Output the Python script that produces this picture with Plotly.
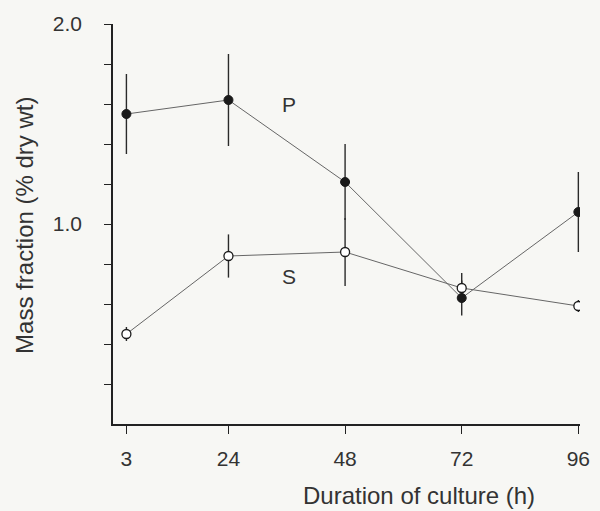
import plotly.graph_objects as go

hours = [3, 24, 48, 72, 96]
p_values = [1.55, 1.62, 1.21, 0.63, 1.06]
p_errors = [0.20, 0.23, 0.19, 0.087, 0.20]
s_values = [0.45, 0.84, 0.86, 0.68, 0.59]
s_errors = [0.035, 0.108, 0.17, 0.075, 0.03]

x_ticks = [3, 24, 48, 72, 96]
y_tick_vals = [0.2, 0.4, 0.6, 0.8, 1.0, 1.2, 1.4, 1.6, 1.8, 2.0]
y_tick_text = ["", "", "", "", "1.0", "", "", "", "", "2.0"]

FONT = "Liberation Sans, Arial, sans-serif"
TXT = "#333333"
BG = "#f7f7f4"

fig = go.Figure()

# error bars underneath
for vals, errs in [(p_values, p_errors), (s_values, s_errors)]:
    fig.add_trace(go.Scatter(
        x=hours, y=vals, mode="markers",
        marker=dict(size=2, color="rgba(0,0,0,0)"),
        error_y=dict(type="data", array=errs, visible=True, width=0,
                     thickness=1.4, color="#2a2a2a"),
        showlegend=False, hoverinfo="skip"))

fig.add_trace(go.Scatter(
    x=hours, y=p_values, mode="lines+markers", name="P",
    line=dict(color="#666666", width=1),
    marker=dict(size=9, color="#1a1a1a", line=dict(color="#1a1a1a", width=1)),
    showlegend=False))

fig.add_trace(go.Scatter(
    x=hours, y=s_values, mode="lines+markers", name="S",
    line=dict(color="#666666", width=1),
    marker=dict(size=9, color="#ffffff", line=dict(color="#1a1a1a", width=1.3)),
    showlegend=False))

fig.add_annotation(x=36.5, y=1.60, text="P", showarrow=False,
                   font=dict(family=FONT, size=21, color=TXT))
fig.add_annotation(x=36.5, y=0.737, text="S", showarrow=False,
                   font=dict(family=FONT, size=21, color=TXT))

fig.add_annotation(xref="paper", yref="paper", x=(426 - 113) / 477, y=-(495 - 424) / 400,
                   text="Duration of culture (h)", showarrow=False,
                   xanchor="center", yanchor="middle",
                   font=dict(family=FONT, size=24, color=TXT))
fig.add_annotation(xref="paper", yref="paper", x=-(113 - 23) / 477, y=(424 - 225) / 400,
                   text="Mass fraction (% dry wt)", showarrow=False, textangle=-90,
                   xanchor="center", yanchor="middle",
                   font=dict(family=FONT, size=24, color=TXT))

fig.update_xaxes(range=[0.24, 96.34], showgrid=False, zeroline=False,
                 showline=True, linecolor="#222222", linewidth=1.6,
                 ticks="outside", ticklen=8, tickwidth=1.4, tickcolor="#222222",
                 tickvals=x_ticks, ticktext=[str(v) for v in x_ticks],
                 ticklabelstandoff=7,
                 tickfont=dict(family=FONT, size=21, color=TXT))
fig.update_yaxes(range=[0, 2.0], showgrid=False, zeroline=False,
                 showline=True, linecolor="#222222", linewidth=1.6,
                 ticks="outside", ticklen=7, tickwidth=1.4, tickcolor="#222222",
                 tickvals=y_tick_vals, ticktext=y_tick_text,
                 ticklabelstandoff=18,
                 tickfont=dict(family=FONT, size=21, color=TXT))

fig.update_layout(width=600, height=511,
                  margin=dict(l=113, r=10, t=24, b=87),
                  paper_bgcolor=BG, plot_bgcolor=BG,
                  showlegend=False)

fig.write_html("out.html")
